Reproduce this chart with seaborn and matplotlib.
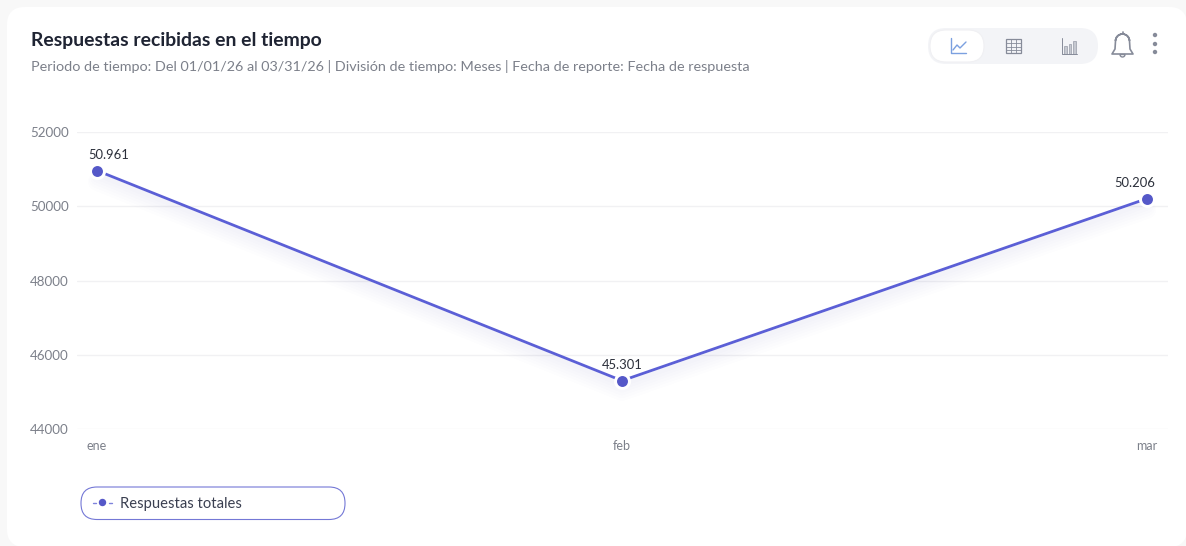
"""Respuestas recibidas en el tiempo: line chart on a dashboard card"""

import matplotlib
matplotlib.use('Agg')
import matplotlib.pyplot as plt
import matplotlib.patheffects as pe
from matplotlib.patches import FancyBboxPatch, Rectangle, Circle, Wedge
import pandas as pd
import seaborn as sns

months = ['ene', 'feb', 'mar']
responses = [50961, 45301, 50206]
value_labels = ['50.961', '45.301', '50.206']
y_ticks = [44000, 46000, 48000, 50000, 52000]
series_name = 'Respuestas totales'
title = 'Respuestas recibidas en el tiempo'
subtitle = ('Periodo de tiempo: Del 01/01/26 al 03/31/26 | División de tiempo: Meses | '
            'Fecha de reporte: Fecha de respuesta')

LINE = '#5b5fd6'
DOT = '#5558c8'
DARK = '#1f2433'
GREY = '#7c808a'
ICON = '#868b99'
W, H = 1186, 546

sns.set_theme(style='white')
plt.rcParams['font.family'] = ['Lato', 'DejaVu Sans']

fig = plt.figure(figsize=(W / 100, H / 100), dpi=100, facecolor='#f8f8f8')

# capa de fondo en píxeles: tarjeta blanca
bg = fig.add_axes([0, 0, 1, 1], zorder=0)
bg.set_xlim(0, W)
bg.set_ylim(H, 0)
bg.axis('off')
bg.add_patch(FancyBboxPatch((7, 7), W - 6, H - 6,
                            boxstyle='round,pad=0,rounding_size=18',
                            fc='white', ec='none'))

# ejes: 52000 en y=132.5 px, 44000 en y=429.5 px, x de 77 a 1168 px
ax = fig.add_axes([77 / W, 1 - 429 / H, (1168 - 77) / W, (429 - 132) / H], zorder=1)
ax.patch.set_alpha(0)
df = pd.DataFrame({'mes': months, 'respuestas': responses})

# sombra difusa bajo la línea
shadow = [pe.SimpleLineShadow(offset=(0, -off), shadow_color=LINE, alpha=0.013, linewidth=lw)
          for off, lw in ((3, 3), (4, 5), (5, 7), (6, 9), (7, 11), (8, 13))]
sns.lineplot(data=df, x='mes', y='respuestas', ax=ax, color=LINE, linewidth=2.0,
             sort=False, errorbar=None, path_effects=shadow + [pe.Normal()])
sns.scatterplot(data=df, x='mes', y='respuestas', ax=ax, color='white', s=150, zorder=4,
                linewidth=0, clip_on=False, legend=False)
sns.scatterplot(data=df, x='mes', y='respuestas', ax=ax, color=DOT, s=62, zorder=5,
                linewidth=0, clip_on=False, legend=False)

ax.set_xlim(-20 / 525, 2 + 21 / 525)
ax.set_ylim(y_ticks[0], y_ticks[-1])
ax.set_yticks(y_ticks)
ax.set_xlabel('')
ax.set_ylabel('')
ax.grid(axis='y', color='#f1f1f3', linewidth=1)
ax.set_axisbelow(True)
sns.despine(ax=ax, left=True, bottom=True, top=True, right=True)
ax.tick_params(axis='y', length=0, pad=6, labelsize=9.6, labelcolor=GREY)
ax.tick_params(axis='x', length=0, pad=8, labelsize=9, labelcolor=GREY)

# las etiquetas de los extremos se desplazan hacia dentro
for i, (label, dx) in enumerate(zip(value_labels, (8.5, 0, -8.5))):
    ax.annotate(label, (i, responses[i]), xytext=(dx, 7), textcoords='offset points',
                ha='center', va='bottom', fontsize=9.4, color='#2b2f3a', zorder=6)

# capa superior en píxeles: títulos, botones y leyenda
top = fig.add_axes([0, 0, 1, 1], zorder=2)
top.set_xlim(0, W)
top.set_ylim(H, 0)
top.axis('off')
top.patch.set_alpha(0)

top.text(31, 40.5, title, fontsize=13.95, fontweight='bold', color=DARK, va='center')
top.text(31, 66.5, subtitle, fontsize=10.33, color=GREY, va='center')

# selector de vista
top.add_patch(FancyBboxPatch((928, 28), 170, 36, boxstyle='round,pad=0,rounding_size=18',
                             fc='#f3f4f7', ec='none'))
top.add_patch(FancyBboxPatch((930, 30), 54, 32, boxstyle='round,pad=0,rounding_size=16',
                             fc='white', ec='#f0f0f3', lw=0.8))
blue = '#7ba0e0'
top.plot([951, 951, 966], [38, 53, 53], color=blue, lw=1.0)
top.plot([953, 957, 960, 966], [50, 45, 48, 42], color=blue, lw=1.0)
top.add_patch(Rectangle((1006, 39), 15, 14, fc='none', ec=ICON, lw=0.9))
for gx in (1011, 1016):
    top.plot([gx, gx], [39, 53], color=ICON, lw=0.6)
for gy in (43, 46.5, 50):
    top.plot([1006, 1021], [gy, gy], color=ICON, lw=0.6)
top.plot([1061.5, 1061.5, 1077], [38, 54, 54], color=ICON, lw=0.7)
for bx, bh in zip((1064, 1068.5, 1073), (8, 10, 13)):
    top.add_patch(Rectangle((bx, 54 - bh), 2.6, bh, fc='#c5c8d0', ec=ICON, lw=0.4))

# campana
top.add_patch(Wedge((1122.5, 41), 7, 180, 360, width=0, fc='none', ec=ICON, lw=1.2))
top.plot([1115.5, 1115, 1112, 1133, 1130, 1129.5], [41, 49, 54, 54, 49, 41], color=ICON, lw=1.2)
top.plot([1122.5, 1122.5], [32, 34], color=ICON, lw=1.2)
top.add_patch(Wedge((1122.5, 54.5), 2.5, 0, 180, fc='none', ec=ICON, lw=1.0))

# menú de tres puntos
for dy in (35, 44, 52):
    top.add_patch(Circle((1155, dy), 2.2, fc=ICON, ec='none'))

# leyenda
top.add_patch(FancyBboxPatch((81, 487), 264, 32.5, boxstyle='round,pad=0,rounding_size=16',
                             fc='white', ec='#7478d6', lw=0.8))
for seg in ([93, 96], [109, 112]):
    top.plot(seg, [502.5, 502.5], color='#7f83dc', lw=1.0)
top.add_patch(Circle((102.5, 502.5), 3.7, fc=DOT, ec='none'))
top.text(120, 504, series_name, fontsize=10.6, color='#3a3f50', va='center')

fig.savefig('out.png', dpi=100, facecolor=fig.get_facecolor())
